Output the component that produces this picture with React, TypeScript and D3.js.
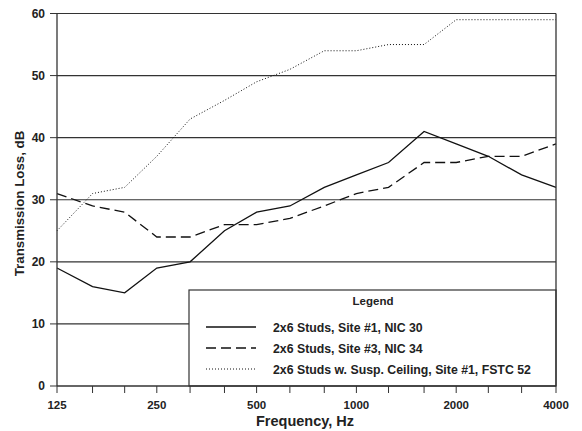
import * as d3 from "d3"

// 1/3 octave band centre frequencies, Hz
const freqs = [125, 160, 200, 250, 315, 400, 500, 630, 800, 1000, 1250, 1600, 2000, 2500, 3150, 4000]
const site1 = [19, 16, 15, 19, 20, 25, 28, 29, 32, 34, 36, 41, 39, 37, 34, 32]
const site3 = [31, 29, 28, 24, 24, 26, 26, 27, 29, 31, 32, 36, 36, 37, 37, 39]
const suspCeiling = [25, 31, 32, 37, 43, 46, 49, 51, 54, 54, 55, 55, 59, 59, 59, 59]
const xLabels = [125, 250, 500, 1000, 2000, 4000]
const yTicks = [0, 10, 20, 30, 40, 50, 60]
const seriesNames = [
    "2x6 Studs, Site #1, NIC 30",
    "2x6 Studs, Site #3, NIC 34",
    "2x6 Studs w. Susp. Ceiling, Site #1, FSTC 52",
]

const W = 582
const H = 431
const left = 57, right = 556, top = 13.5, bottom = 386
const font = "'Liberation Sans', Arial, sans-serif"

const App = () => {
    const x = d3.scaleLog().domain([125, 4000]).range([left, right])
    const y = d3.scaleLinear().domain([0, 60]).range([bottom, top])

    const line = d3
        .line<number>()
        .x((d, i) => x(freqs[i]))
        .y(d => y(d))

    const series = [site1, site3, suspCeiling]
    const dashes = [null, "10,5", "1,2"]
    const widths = [1.3, 1.3, 1]

    // legend box
    const lgLeft = 189, lgTop = 290

    return (
        <svg width={W} height={H} style={{ position: "absolute", left: 0, top: 0, background: "#fff" }}
             fontFamily={font} fontWeight="bold">
            {/* gridlines */}
            {yTicks.filter(t => t > 0).map(t => (
                <line key={t} x1={left} x2={right} y1={y(t)} y2={y(t)} stroke="#333" strokeWidth={1.2}/>
            ))}
            {/* y ticks + labels */}
            {yTicks.map(t => (
                <g key={t}>
                    <line x1={left - 7} x2={left} y1={y(t)} y2={y(t)} stroke="#333" strokeWidth={1}/>
                    <text x={45} y={y(t) + 4} textAnchor="end" fontSize={12} fill="#222">{t}</text>
                </g>
            ))}
            {/* x ticks */}
            {freqs.map(f => (
                <line key={f} x1={x(f)} x2={x(f)} y1={bottom} y2={bottom + 7} stroke="#333" strokeWidth={1}/>
            ))}
            {xLabels.map(f => (
                <text key={f} x={x(f)} y={409} textAnchor="middle" fontSize={11.5} fill="#222">{f}</text>
            ))}

            {/* data lines */}
            {series.map((s, i) => (
                <path key={i} d={line(s) ?? ""} fill="none" stroke="#111" strokeWidth={widths[i]}
                      strokeDasharray={dashes[i] ?? undefined}/>
            ))}

            {/* legend */}
            <rect x={lgLeft} y={lgTop} width={right - lgLeft} height={bottom - lgTop} fill="#fff" stroke="#333" strokeWidth={1.2}/>
            <text x={373} y={305} textAnchor="middle" fontSize={11.5} fill="#222">Legend</text>
            {seriesNames.map((name, i) => {
                const ly = 327 + i * 21
                return (
                    <g key={name}>
                        <line x1={206} x2={256} y1={ly} y2={ly} stroke="#111" strokeWidth={widths[i]}
                              strokeDasharray={dashes[i] ?? undefined}/>
                        <text x={273} y={ly + 4.5} fontSize={12.3} fill="#222">{name}</text>
                    </g>
                )
            })}

            {/* axes frame */}
            <line x1={left} x2={left} y1={top} y2={bottom} stroke="#333" strokeWidth={1.3}/>
            <line x1={right} x2={right} y1={top} y2={bottom} stroke="#333" strokeWidth={1.3}/>
            <line x1={left} x2={right} y1={bottom} y2={bottom} stroke="#333" strokeWidth={1.3}/>

            {/* axis titles */}
            <text x={305} y={426} textAnchor="middle" fontSize={14.5} fill="#222">Frequency, Hz</text>
            <text transform={`translate(24, 203.5) rotate(-90)`} textAnchor="middle" fontSize={13.3} fill="#222">
                Transmission Loss, dB
            </text>
        </svg>
    )
}

export default App
